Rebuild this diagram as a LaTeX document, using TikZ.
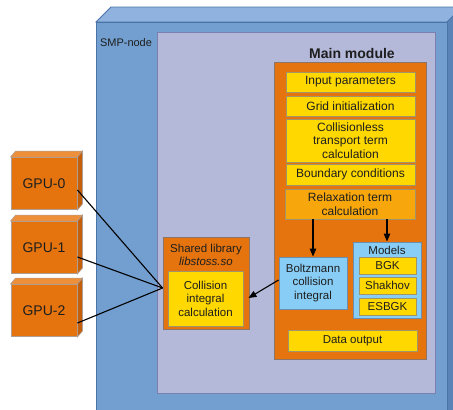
\documentclass[tikz,border=0pt]{standalone}
\usepackage{fontspec}
\setmainfont{Liberation Sans}
\usetikzlibrary{arrows.meta,calc}
\definecolor{smpfront}{HTML}{729FCF}
\definecolor{smptop}{HTML}{8FB3DE}
\definecolor{smpside}{HTML}{5A84B8}
\definecolor{smpline}{HTML}{4A74A8}
\definecolor{lav}{HTML}{B4B9D9}
\definecolor{lavline}{HTML}{7A80B0}
\definecolor{orng}{HTML}{E5740F}
\definecolor{orngtop}{HTML}{EE8F3A}
\definecolor{orngside}{HTML}{C4600C}
\definecolor{orngline}{HTML}{8C7466}
\definecolor{yel}{HTML}{FFD800}
\definecolor{yelline}{HTML}{A09468}
\definecolor{relax}{HTML}{F7A60C}
\definecolor{lblue}{HTML}{88CDF6}
\definecolor{lblueline}{HTML}{6C8EAE}
\definecolor{txt}{HTML}{1E1E1E}
\tikzset{
  boxbase/.style={rectangle, inner sep=0pt, align=center, text=txt, line width=0.9pt},
  ybox/.style={boxbase, fill=yel, draw=yelline, minimum width=129pt, minimum height=#1},
  bbox/.style={boxbase, fill=lblue, draw=lblueline},
  obox/.style={boxbase, fill=orng, draw=orngline},
  big/.style={font=\fontsize{12}{13.5}\selectfont},
  gpubox/.style={boxbase, fill=orng, draw=orngline!70, minimum width=66pt, minimum height=52pt, font=\fontsize{14}{16}\selectfont},
  conn/.style={line width=1.1pt, black},
  arr/.style={line width=1.1pt, black, -{Triangle[length=8pt,width=6.5pt]}},
}
\begin{document}
\begin{tikzpicture}[x=1pt,y=-1pt,font=\fontsize{11.5}{13.5}\selectfont]
\useasboundingbox (0,0) rectangle (453,410);
% SMP node 3D box
\begin{scope}
\clip (0,0) rectangle (453,410);
\fill[smptop, draw=smpline, line width=0.8pt] (96,22) -- (111,7) -- (470,7) -- (447,22) -- cycle;
\fill[smpside, draw=smpline, line width=0.8pt] (447,22) -- (462,7) -- (462,430) -- (447,430) -- cycle;
\fill[smpfront, draw=smpline, line width=0.8pt] (96,22) rectangle (447,430);
\end{scope}
\coordinate (smpleft) at (96,0);
\node[text=txt, font=\fontsize{11}{13}\selectfont] (smplabel) at (126,43) {SMP-node};
% inner lavender area
\node[boxbase, fill=lav, draw=lavline, minimum width=278pt, minimum height=361pt] (inner) at (296,212.5) {};
\node[text=txt, font=\bfseries\fontsize{14}{16}\selectfont] (maintitle) at (352,53) {Main module};
% main module
\node[obox, minimum width=152pt, minimum height=297pt] (main) at (350,210.5) {};
\node[ybox=20pt, big] (input) at (350.5,82) {Input parameters};
\node[ybox=20pt, big] (grid) at (350.5,106) {Grid initialization};
\node[ybox=43pt, big] (transport) at (350.5,140.5) {Collisionless\\transport term\\calculation};
\node[ybox=21pt, big] (boundary) at (350.5,174.5) {Boundary conditions};
\node[boxbase, big, fill=relax, draw=yelline, minimum width=130pt, minimum height=30pt] (relax) at (350,204) {Relaxation term\\calculation};
\node[bbox, minimum width=68pt, minimum height=52pt] (boltz) at (313,283) {Boltzmann\\collision\\integral};
\node[bbox, minimum width=68pt, minimum height=76pt] (models) at (387,280) {};
\node[text=txt] (modlabel) at (387,250) {Models};
\node[ybox=17pt, minimum width=57pt] (bgk) at (387.5,265.5) {BGK};
\node[ybox=17pt, minimum width=57pt] (shakhov) at (387.5,285.5) {Shakhov};
\node[ybox=17pt, minimum width=57pt] (esbgk) at (387.5,306.5) {ESBGK};
\node[ybox=21pt] (data) at (352.5,340.5) {Data output};
% shared library
\node[obox, minimum width=86pt, minimum height=92pt] (shared) at (206,283) {};
\node[text=txt, align=center, inner sep=0pt] (sharedlabel) at (206,255) {Shared library\\\textit{libstoss.so}};
\node[ybox=55pt, minimum width=75pt] (collision) at (205.5,298.5) {Collision\\integral\\calculation};
% GPUs
\foreach \n/\y in {0/183.5,1/247.5,2/310.5}{
  \node[gpubox] (gpu\n) at (44,\y) {GPU-\n};
  \fill[orngtop, draw=orngline!70, line width=0.6pt] (gpu\n.north west) -- ++(5,-6) -- ($(gpu\n.north east)+(5,-6)$) -- (gpu\n.north east) -- cycle;
  \fill[orngside, draw=orngline!70, line width=0.6pt] (gpu\n.north east) -- ++(5,-6) -- ($(gpu\n.south east)+(5,-6)$) -- (gpu\n.south east) -- cycle;
  \draw[line width=0.9pt] ($(gpu\n.east)+(1,-4.5)$) -- ($(gpu\n.east)+(1,-4.5)$ -| smpleft);
  \draw[line width=0.9pt] ($(gpu\n.east)+(1,-0.5)$) -- ($(gpu\n.east)+(1,-0.5)$ -| smpleft);
}
\coordinate (hub) at ($(shared.west)+(0,5)$);
\draw[conn] ($(gpu0.east)+(0,6.5)$) -- (hub);
\draw[conn] ($(gpu1.east)+(0,9.5)$) -- (hub);
\draw[conn] ($(gpu2.east)+(0,12.5)$) -- (hub);
% arrows
\draw[arr] (relax.south -| boltz.north) -- (boltz.north);
\draw[arr] (relax.south -| models.north) -- (models.north);
\draw[arr] ($(boltz.west)+(0,-3)$) -- ($(shared.east)+(-1,15)$);
\end{tikzpicture}
\end{document}
